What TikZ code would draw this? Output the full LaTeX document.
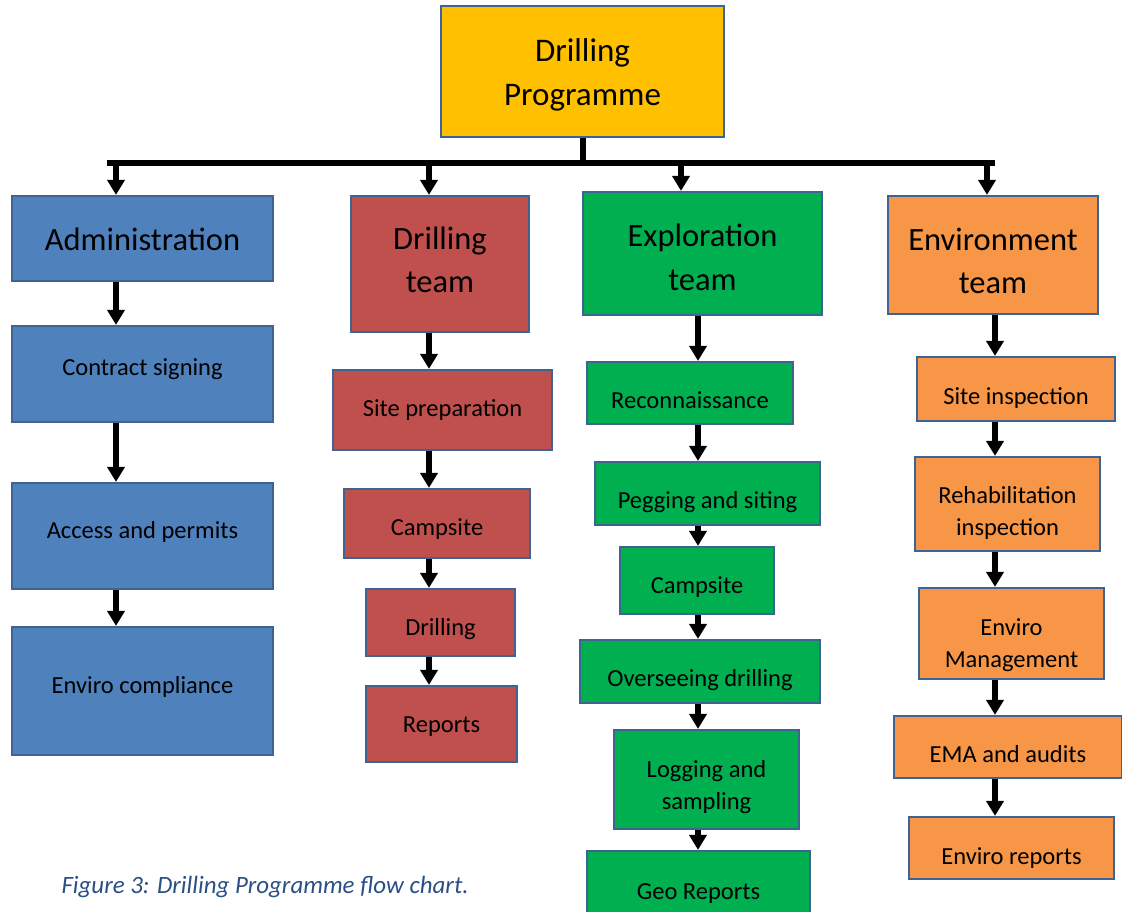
\documentclass[tikz,border=0pt]{standalone}
\usepackage{fontspec}
\setmainfont{Carlito}
\usetikzlibrary{arrows.meta,positioning}
\definecolor{topgold}{HTML}{FFC000}
\definecolor{admblue}{HTML}{4F81BD}
\definecolor{drlred}{HTML}{C0504D}
\definecolor{expgreen}{HTML}{00B050}
\definecolor{envorange}{HTML}{F79646}
\definecolor{boxline}{HTML}{3F6494}
\definecolor{capblue}{HTML}{2A4F86}
\tikzset{
  box/.style={draw=boxline, line width=2.2pt, align=center, inner sep=0pt, text=black},
  head/.style={box, font=\fontsize{32.5}{43.5}\selectfont},
  task/.style={box, font=\fontsize{24.5}{32}\selectfont},
  wh/.style 2 args={minimum width=#1pt, minimum height=#2pt},
  base/.style={text height=#1pt, text depth=0pt},
  arr/.style={line width=5.5pt, -{Triangle[width=17pt,length=15pt]}},
  bus/.style={line width=6pt},
}
\begin{document}
\begin{tikzpicture}[x=1pt,y=-1pt]
  \useasboundingbox (0,0) rectangle (1122,911);

  \node[box, fill=topgold, wh={283}{131}, base=67, font=\fontsize{33}{44}\selectfont] (prog) at (582.5,71.5) {Drilling\\Programme};

  % administration
  \node[head, fill=admblue, wh={261}{85}, base=23] (admin)      at (142.5,238.5) {Administration};
  \node[task, fill=admblue, wh={261}{96}, base=2]  (contract)   at (142.5,374)   {Contract signing};
  \node[task, fill=admblue, wh={261}{106}, base=4] (access)     at (142.5,536)   {Access and permits};
  \node[task, fill=admblue, wh={261}{128}, base=4] (compliance) at (142.5,691)   {Enviro compliance};

  % drilling team
  \node[head, fill=drlred, wh={178}{136}, base=57] (dteam)    at (440,264)     {Drilling\\team};
  \node[task, fill=drlred, wh={219}{80}, base=12]  (siteprep) at (442.5,410)   {Site preparation};
  \node[task, fill=drlred, wh={186}{69}, base=23]  (dcamp)    at (437,523.5)   {Campsite};
  \node[task, fill=drlred, wh={149}{67}, base=26]  (drilling) at (440.5,622.5) {Drilling};
  \node[task, fill=drlred, wh={151}{76}, base=16]  (dreports) at (441.5,724)   {Reports};

  % exploration team
  \node[head, fill=expgreen, wh={239}{123}, base=73] (xteam)   at (702.5,253.5) {Exploration\\team};
  \node[task, fill=expgreen, wh={206}{62}, base=30]  (recon)   at (690,393)     {Reconnaissance};
  \node[task, fill=expgreen, wh={225}{63}, base=30]  (pegging) at (707.5,493.5) {Pegging and siting};
  \node[task, fill=expgreen, wh={154}{67}, base=25]  (xcamp)   at (697,580.5)   {Campsite};
  \node[task, fill=expgreen, wh={240}{63}, base=30]  (oversee) at (700,671.5)   {Overseeing drilling};
  \node[task, fill=expgreen, wh={185}{99}, base=59]  (logging) at (706.5,779.5) {Logging and\\sampling};
  \node[task, fill=expgreen, wh={223}{66}, base=30]  (geo)     at (698.5,884)   {Geo Reports};

  % environment team
  \node[head, fill=envorange, wh={210}{118}, base=77] (eteam)    at (993,255)      {Environment\\team};
  \node[task, fill=envorange, wh={198}{64}, base=30]  (siteinsp) at (1016,389)     {Site inspection};
  \node[task, fill=envorange, wh={185}{94}, base=62]  (rehab)    at (1007.5,504)   {Rehabilitation\\inspection};
  \node[task, fill=envorange, wh={185}{91}, base=67]  (envmgmt)  at (1011.5,633.5) {Enviro\\Management};
  \node[task, fill=envorange, wh={228}{62}, base=30]  (ema)      at (1008,747)     {EMA and audits};
  \node[task, fill=envorange, wh={205}{62}, base=32]  (ereports) at (1011.5,848)   {Enviro reports};

  \node[font=\fontsize{24.9}{30}\itshape, text=capblue, anchor=west] (caption) at (58,887) {Figure 3: Drilling Programme flow chart.};

  % bus
  \coordinate (busL) at (107,163);
  \coordinate (busR) at (995,163);
  \coordinate (ca) at (116,0);
  \coordinate (cd) at (429,0);
  \coordinate (cx) at (681,0);
  \coordinate (cxl) at (698,0);
  \coordinate (ce) at (987,0);
  \coordinate (cel) at (995,0);
  \draw[bus] (busL) -- (busR);
  \draw[bus] (prog.south) -- (prog.south |- busL);
  \draw[arr] (busL -| ca) -- (admin.north -| ca);
  \draw[arr] (busL -| cd) -- (dteam.north -| cd);
  \draw[arr] (busL -| cx) -- (xteam.north -| cx);
  \draw[arr] (busL -| ce) -- (eteam.north -| ce);

  \draw[arr] (admin.south -| ca)    -- (contract.north -| ca);
  \draw[arr] (contract.south -| ca) -- (access.north -| ca);
  \draw[arr] (access.south -| ca)   -- (compliance.north -| ca);

  \draw[arr] (dteam.south -| cd)    -- (siteprep.north -| cd);
  \draw[arr] (siteprep.south -| cd) -- (dcamp.north -| cd);
  \draw[arr] (dcamp.south -| cd)    -- (drilling.north -| cd);
  \draw[arr] (drilling.south -| cd) -- (dreports.north -| cd);

  \draw[arr] (xteam.south -| cxl)   -- (recon.north -| cxl);
  \draw[arr] (recon.south -| cxl)   -- (pegging.north -| cxl);
  \draw[arr] (pegging.south -| cxl) -- (xcamp.north -| cxl);
  \draw[arr] (xcamp.south -| cxl)   -- (oversee.north -| cxl);
  \draw[arr] (oversee.south -| cxl) -- (logging.north -| cxl);
  \draw[arr] (logging.south -| cxl) -- (geo.north -| cxl);

  \draw[arr] (eteam.south -| cel)    -- (siteinsp.north -| cel);
  \draw[arr] (siteinsp.south -| cel) -- (rehab.north -| cel);
  \draw[arr] (rehab.south -| cel)    -- (envmgmt.north -| cel);
  \draw[arr] (envmgmt.south -| cel)  -- (ema.north -| cel);
  \draw[arr] (ema.south -| cel)      -- (ereports.north -| cel);
\end{tikzpicture}
\end{document}
